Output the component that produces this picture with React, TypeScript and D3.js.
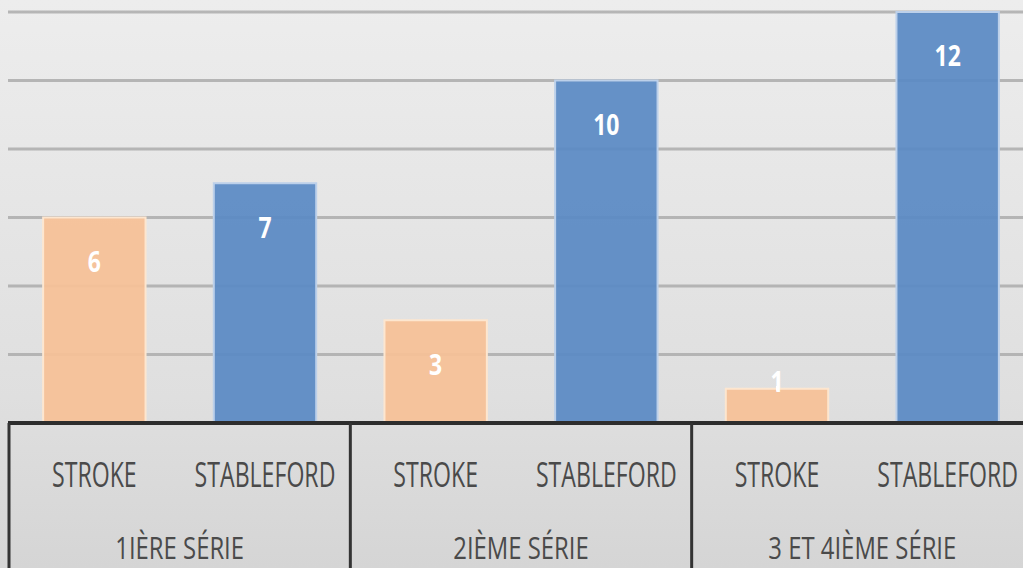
import * as d3 from "d3"

const categories = ["1IÈRE SÉRIE", "2IÈME SÉRIE", "3 ET 4IÈME SÉRIE"]
const seriesNames = ["STROKE", "STABLEFORD"]
const strokeValues = [6, 3, 1]
const stablefordValues = [7, 10, 12]
const gridTicks = [0, 2, 4, 6, 8, 10, 12]

const colors: Record<string, string> = { STROKE: "#f6c197", STABLEFORD: "#5a8ac4" }
const edges: Record<string, string> = { STROKE: "#fde6cf", STABLEFORD: "#bcd0ea" }

const W = 1023
const H = 568
const baseY = 423
const font = "'Open Sans', 'Noto Sans', sans-serif"

export default function App() {
  const x0 = d3.scaleBand<string>().domain(categories).range([9, 1033])
  const x1 = d3.scaleBand<string>().domain(seriesNames).range([0, x0.bandwidth()]).paddingInner(0.4).paddingOuter(0.2)
  const y = d3.scaleLinear().domain([0, 12]).range([baseY, 12])

  const rows = categories.map((c, i) => ({ cat: c, values: [strokeValues[i], stablefordValues[i]] }))

  return (
    <div style={{ position: "fixed", left: 0, top: 0 }}>
      <svg width={W} height={H} style={{ display: "block" }}>
        <defs>
          <linearGradient id="bg" x1="0" y1="0" x2="0" y2="1">
            <stop offset="0" stopColor="#ededed" />
            <stop offset="0.7" stopColor="#dfdfdf" />
            <stop offset="1" stopColor="#d5d5d5" />
          </linearGradient>
        </defs>
        <rect width={W} height={H} fill="url(#bg)" />

        {/* grid lines */}
        {gridTicks.slice(1).map((t) => (
          <line key={t} x1={8} x2={W} y1={y(t)} y2={y(t)} stroke="#ababab" strokeWidth={3} strokeOpacity={0.85} />
        ))}

        {/* bars */}
        {rows.map((r) =>
          seriesNames.map((s, j) => {
            const v = r.values[j]
            const bx = (x0(r.cat) as number) + (x1(s) as number)
            const top = y(v)
            const cx = bx + x1.bandwidth() / 2
            const ly = Math.min(top + 44, baseY - 41)
            return (
              <g key={r.cat + s}>
                <rect x={bx} y={top} width={x1.bandwidth()} height={baseY - top} fill={colors[s]} fillOpacity={0.93} stroke={edges[s]} strokeWidth={2} />
                {ly < top && <line x1={cx} x2={cx} y1={ly + 4} y2={top + 2} stroke="#ffffff" strokeWidth={2} />}
                <g transform={`translate(${cx},${ly}) scale(0.82,1)`}>
                  <text textAnchor="middle" dominantBaseline="central" fill="#ffffff" fontFamily={font} fontWeight={700} fontSize={28}>
                    {v}
                  </text>
                </g>
              </g>
            )
          })
        )}

        {/* axis */}
        <line x1={8} x2={W} y1={baseY} y2={baseY} stroke="#2d2d2d" strokeWidth={4} />
        {categories.map((c) => (
          <line key={c} x1={x0(c) as number} x2={x0(c) as number} y1={baseY} y2={H} stroke="#333333" strokeWidth={3} />
        ))}

        {rows.map((r) =>
          seriesNames.map((s) => {
            const cx = (x0(r.cat) as number) + (x1(s) as number) + x1.bandwidth() / 2
            return (
              <g key={"l" + r.cat + s} transform={`translate(${cx},487) scale(0.68,1)`}>
                <text textAnchor="middle" fill="#4a4a4a" fontFamily={font} fontSize={34}>
                  {s}
                </text>
              </g>
            )
          })
        )}

        {categories.map((c) => (
          <g key={"c" + c} transform={`translate(${(x0(c) as number) + x0.bandwidth() / 2},559) scale(0.77,1)`}>
            <text textAnchor="middle" fill="#4a4a4a" fontFamily={font} fontSize={31}>
              {c}
            </text>
          </g>
        ))}
      </svg>
    </div>
  )
}
